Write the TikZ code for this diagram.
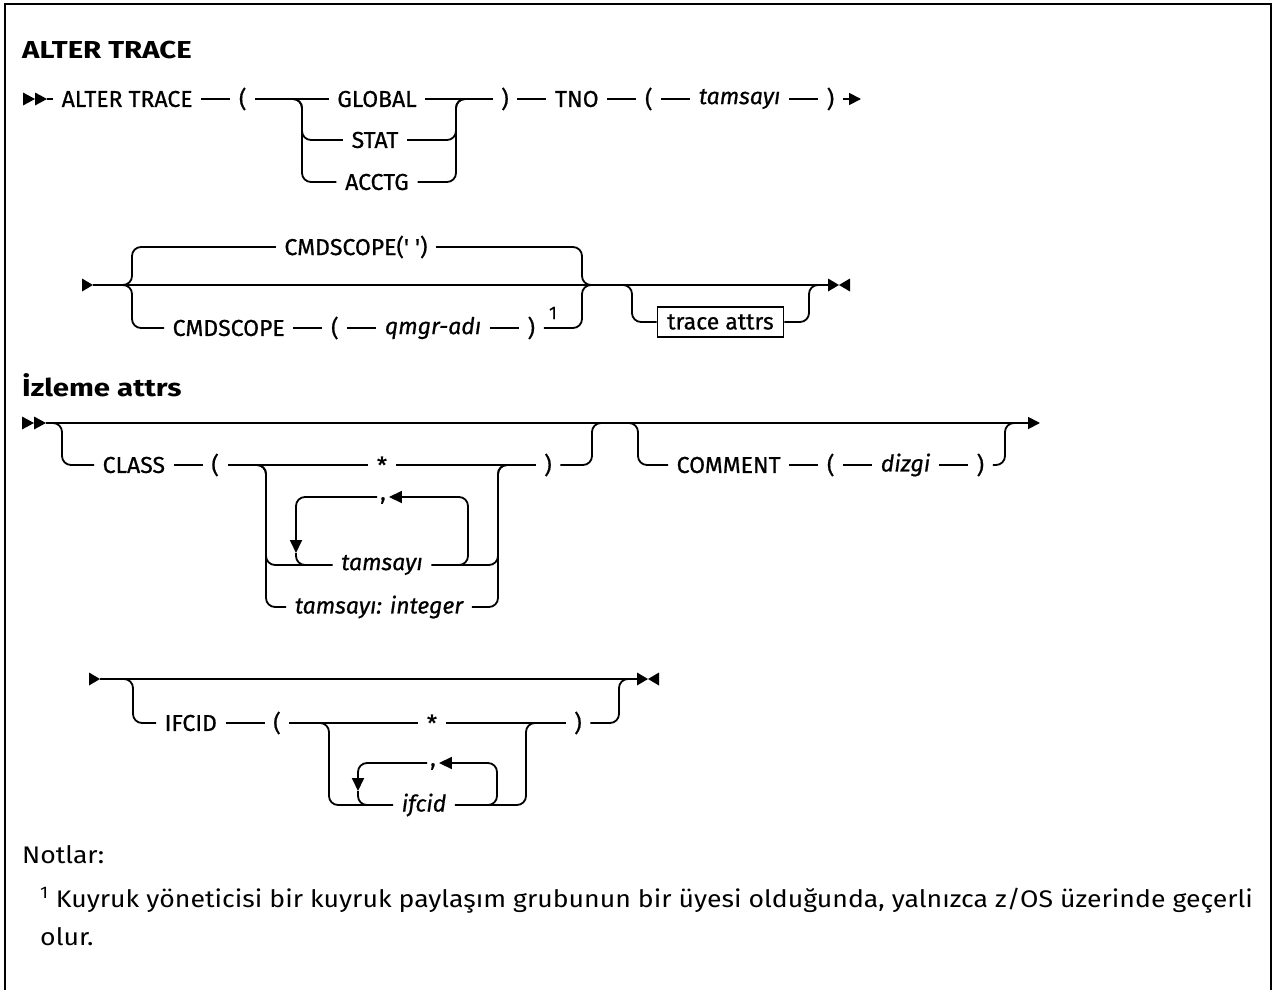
\documentclass[tikz,border=0pt]{standalone}
\usepackage{fontspec}
\setmainfont{Fira Sans}
\newfontfamily\railfont[Ligatures=TeXOff,FakeBold=0.7]{Fira Sans}
\newfontfamily\headfont[FakeStretch=1.2]{Fira Sans}
\newfontfamily\notefont[FakeStretch=1.11]{Fira Sans}
\usetikzlibrary{positioning,arrows.meta}

\begin{document}
\begin{tikzpicture}[x=1pt,y=-1pt,
  node distance=29pt,
  kw/.style={inner xsep=8.5pt,inner ysep=2pt,font=\railfont\fontsize{23}{26}\selectfont},
  var/.style={kw,font=\railfont\itshape\fontsize{23}{26}\selectfont},
  refbox/.style={draw,line width=1.3pt,inner xsep=10pt,minimum height=30pt,
                 font=\railfont\fontsize{23}{26}\selectfont},
  commak/.style={inner xsep=3pt,inner ysep=0pt,text height=10pt,text depth=4pt,
                 font=\railfont\fontsize{23}{26}\selectfont},
  fn/.style={inner sep=1pt,font=\railfont\fontsize{18}{20}\selectfont},
  head/.style={anchor=west,inner sep=0pt,font=\headfont\bfseries\fontsize{24.5}{28}\selectfont},
  note/.style={anchor=west,inner sep=0pt,font=\notefont\fontsize{24}{28}\selectfont},
  rail/.style={line width=1.8pt,rounded corners=9pt},
  endar/.style={-{Triangle[length=12pt,width=12pt]}},
  loopar/.style={-{Triangle[length=13pt,width=12pt]}},
  dstart/.pic={\fill (-24,-6.5) -- (-12,0) -- (-24,6.5) -- cycle;
               \fill (-12,-6.5) -- (0,0) -- (-12,6.5) -- cycle;},
  sstart/.pic={\fill (-11,-6.5) -- (0,0) -- (-11,6.5) -- cycle;},
  emark/.pic={\fill (0,-6.5) -- (11,0) -- (0,6.5) -- cycle;
              \fill (22,-6.5) -- (11,0) -- (22,6.5) -- cycle;}
]
\useasboundingbox (0,0) rectangle (1274,990);
\draw[line width=2.5pt] (5,990) -- (5,4) -- (1271,4) -- (1271,990);

% ALTER TRACE
\node[head] (t1) at (22,50) {ALTER TRACE};

\coordinate (s1) at (47,99);
\pic at (s1) {dstart};
\node[kw,anchor=west] (alter) at (53,99) {ALTER TRACE};
\node[kw,right=of alter] (lp1) {(};
\node[kw] (glob) at (377,99) {GLOBAL};
\node[kw] (stat) at (375,140) {STAT};
\node[kw] (acct) at (377,182) {ACCTG};
\node[kw] (rp1) at (505,99) {)};
\node[kw,right=of rp1] (tno) {TNO};
\node[kw,right=of tno] (lp1b) {(};
\node[var,right=of lp1b] (tnum) {tamsayı};
\node[kw,right=of tnum] (rp1b) {)};
\coordinate (e1) at (861,99);
\coordinate (a1) at (290,99);
\coordinate (a2) at (302,120);
\coordinate (a3) at (456,120);
\coordinate (a4) at (468,99);

\draw[rail] (s1) -- (alter) -- (lp1) -- (glob) -- (rp1) -- (tno) -- (lp1b) -- (tnum) -- (rp1b);
\draw[rail,endar] (rp1b) -- (e1);
\draw[rail] (a1) -| (a2) |- (stat);
\draw[rail] (a1) -| (a2) |- (acct);
\draw[rail] (stat) -| (a3) |- (a4);
\draw[rail] (acct) -| (a3) |- (a4);

% CMDSCOPE / trace attrs
\coordinate (s2) at (93,285);
\pic at (s2) {sstart};
\coordinate (e2) at (828,285);
\pic at (e2) {emark};
\node[kw] (cmd0) at (356,247) {CMDSCOPE(' ')};
\node[kw,anchor=west] (cmd1) at (164,328) {CMDSCOPE};
\node[kw,right=of cmd1] (lp2) {(};
\node[var,right=of lp2] (qmgr) {qmgr-adı};
\node[kw,right=of qmgr] (rp2) {)};
\node[fn] (n1) at (553,313) {1};
\node[refbox] (tatt) at (720.5,322) {trace attrs};
\coordinate (b1) at (120,285);
\coordinate (b2) at (132,266);
\coordinate (b3) at (132,305);
\coordinate (b4) at (582,266);
\coordinate (b5) at (582,305);
\coordinate (b6) at (594,285);
\coordinate (c1) at (620,285);
\coordinate (c2) at (632,305);
\coordinate (c3) at (809,305);
\coordinate (c4) at (821,285);

\draw[rail] (s2) -- (e2);
\draw[rail] (b1) -| (b2) |- (cmd0);
\draw[rail] (b1) -| (b3) |- (cmd1);
\draw[rail] (cmd1) -- (lp2) -- (qmgr) -- (rp2);
\draw[rail] (cmd0) -| (b4) |- (b6);
\draw[rail] (rp2) -| (b5) |- (b6);
\draw[rail] (c1) -| (c2) |- (tatt);
\draw[rail] (tatt) -| (c3) |- (c4);

% Izleme attrs
\node[head] (t2) at (22,385) {İzleme attrs};

\coordinate (s3) at (46,423);
\pic at (s3) {dstart};
\coordinate (e3) at (1040,423);
\draw[rail,endar] (s3) -- (e3);

\node[kw,anchor=west] (cls) at (94,465) {CLASS};
\node[kw,right=of cls] (lp3) {(};
\node[kw] (ast1) at (382,465) {*};
\node[kw] (rp3) at (548,465) {)};
\node[var] (tam) at (382,565) {tamsayı};
\node[var] (tint) at (379,607) {tamsayı: integer};
\node[commak] (com1) at (383,497) {,};
\coordinate (d1) at (50,423);
\coordinate (d2) at (62,444);
\coordinate (d3) at (254,465);
\coordinate (d4) at (266,490);
\coordinate (d5) at (498,490);
\coordinate (d6) at (510,465);
\coordinate (d7) at (592,444);
\coordinate (d8) at (604,423);
\coordinate (l1) at (456,565);
\coordinate (l2) at (468,530);
\coordinate (l3) at (296,553);
\coordinate (l4) at (308,565);

\draw[rail] (d1) -| (d2) |- (cls);
\draw[rail] (cls) -- (lp3) -- (ast1) -- (rp3);
\draw[rail] (d3) -| (d4) |- (tam);
\draw[rail] (d3) -| (d4) |- (tint);
\draw[rail] (tam) -| (d5) |- (d6);
\draw[rail] (tint) -| (d5) |- (d6);
\draw[rail,loopar] (l1) -| (l2) |- (com1);
\draw[rail,loopar] (com1) -| (l3);
\draw[rail] (l3) |- (l4);
\draw[rail] (rp3) -| (d7) |- (d8);

\node[kw,anchor=west] (cmt) at (668,465) {COMMENT};
\node[kw,right=of cmt] (lp4) {(};
\node[var,right=of lp4] (dzg) {dizgi};
\node[kw,right=of dzg] (rp4) {)};
\coordinate (f1) at (626,423);
\coordinate (f2) at (638,444);
\coordinate (f3) at (1005,444);
\coordinate (f4) at (1017,423);
\draw[rail] (f1) -| (f2) |- (cmt);
\draw[rail] (cmt) -- (lp4) -- (dzg) -- (rp4);
\draw[rail] (rp4) -| (f3) |- (f4);

% IFCID
\coordinate (s4) at (100,679);
\pic at (s4) {sstart};
\coordinate (e4) at (637,679);
\pic at (e4) {emark};
\draw[rail] (s4) -- (e4);

\node[kw,anchor=west] (ifc) at (156,723) {IFCID};
\node[kw] (lp5) at (277,723) {(};
\node[kw] (ast2) at (432,723) {*};
\node[kw] (rp5) at (578,723) {)};
\node[var] (ifd) at (424,805) {ifcid};
\node[commak] (com2) at (433,763) {,};
\coordinate (g1) at (121,679);
\coordinate (g2) at (133,700);
\coordinate (h1) at (317,723);
\coordinate (h2) at (329,745);
\coordinate (h3) at (526,745);
\coordinate (h4) at (538,723);
\coordinate (h5) at (619,700);
\coordinate (h6) at (631,679);
\coordinate (k1) at (485,805);
\coordinate (k2) at (497,785);
\coordinate (k3) at (358,791);
\coordinate (k4) at (370,805);

\draw[rail] (g1) -| (g2) |- (ifc);
\draw[rail] (ifc) -- (lp5) -- (ast2) -- (rp5);
\draw[rail] (h1) -| (h2) |- (ifd);
\draw[rail] (ifd) -| (h3) |- (h4);
\draw[rail,loopar] (k1) -| (k2) |- (com2);
\draw[rail,loopar] (com2) -| (k3);
\draw[rail] (k3) |- (k4);
\draw[rail] (rp5) -| (h5) |- (h6);

% notes
\node[note] (notes) at (22,855) {Notlar:};
\node[note] (fnote) at (40,900) {\textsuperscript{1} Kuyruk yöneticisi bir kuyruk paylaşım grubunun bir üyesi olduğunda, yalnızca z/OS üzerinde geçerli};
\node[note] (fnote2) at (40,937) {olur.};
\end{tikzpicture}
\end{document}
